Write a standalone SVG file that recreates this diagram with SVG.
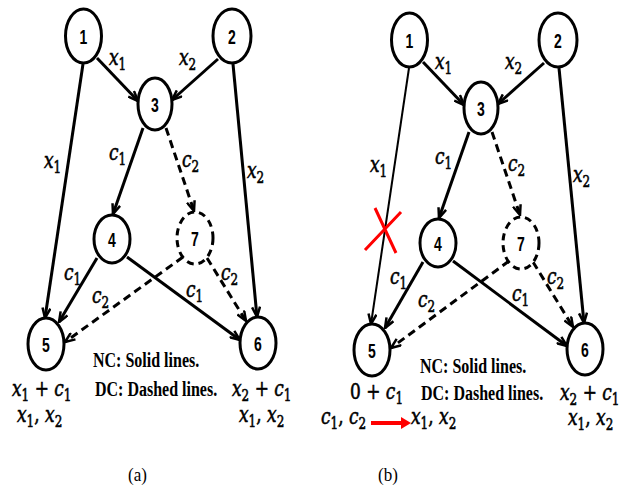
<svg xmlns="http://www.w3.org/2000/svg" width="636" height="487" viewBox="0 0 636 487">
<style>
.nd{fill:#fff;stroke:#000;stroke-width:3}
.dn{stroke-dasharray:7,5}
.e{fill:none;stroke:#000;stroke-width:3}
.d{stroke-dasharray:8,5}
.m{font-family:"DejaVu Serif","Liberation Serif",serif;font-style:italic;font-size:17px;fill:#000;stroke:#000;stroke-width:0.45}
.s{font-style:normal;font-size:12px}
.u{font-style:normal}
.n{font-family:"Liberation Sans",Arial,sans-serif;font-weight:bold;font-size:14px;text-anchor:middle;fill:#000}
.t{font-family:"Liberation Serif","Times New Roman",serif;font-weight:bold;font-size:16px;fill:#000}
.c{font-family:"Liberation Serif","Times New Roman",serif;font-size:17px;text-anchor:middle;fill:#000}
</style>
<defs>
<marker id="ah" viewBox="0 0 12 10" refX="11" refY="5" markerWidth="12" markerHeight="10" markerUnits="userSpaceOnUse" orient="auto"><path d="M1,1 L11,5 L1,9" fill="none" stroke="#000" stroke-width="2.5" stroke-dasharray="none"/></marker>
</defs>
<rect width="636" height="487" fill="#fff"/>

<!-- Panel (a) -->
<g id="panel-a">
<g id="a-connectors">
<path class="e" d="M97,58 L138,101" marker-end="url(#ah)"/>
<path class="e" d="M218,59 L172,100" marker-end="url(#ah)"/>
<path class="e" d="M83,64 L45,318" marker-end="url(#ah)"/>
<path class="e" d="M233,64 L257,317" marker-end="url(#ah)"/>
<path class="e" d="M143,128 L113,214" marker-end="url(#ah)"/>
<path class="e d" d="M166,128 L194,211" marker-end="url(#ah)"/>
<path class="e" d="M97,258 L59,322" marker-end="url(#ah)"/>
<path class="e" d="M127,257 L240,340" marker-end="url(#ah)"/>
<path class="e d" d="M183,257 L65,342" marker-end="url(#ah)"/>
<path class="e d" d="M207,258 L246,321" marker-end="url(#ah)"/>
</g>
<g id="a-node1"><ellipse class="nd" cx="83.5" cy="36" rx="18" ry="27"/><text class="n" transform="translate(83.5,43.5) scale(1,1.45)">1</text></g>
<g id="a-node2"><ellipse class="nd" cx="232" cy="36" rx="19" ry="27"/><text class="n" transform="translate(232,43.5) scale(1,1.45)">2</text></g>
<g id="a-node3"><ellipse class="nd" cx="155" cy="104" rx="17" ry="26"/><text class="n" transform="translate(155,111.5) scale(1,1.45)">3</text></g>
<g id="a-node4"><ellipse class="nd" cx="112" cy="239" rx="18" ry="24"/><text class="n" transform="translate(112,246.5) scale(1,1.45)">4</text></g>
<g id="a-node7"><ellipse class="nd dn" cx="195" cy="238" rx="18" ry="26"/><text class="n" transform="translate(195,245.5) scale(1,1.45)">7</text></g>
<g id="a-node5"><ellipse class="nd" cx="46" cy="344" rx="18" ry="26"/><text class="n" transform="translate(46,351.5) scale(1,1.45)">5</text></g>
<g id="a-node6"><ellipse class="nd" cx="258" cy="343" rx="18" ry="26"/><text class="n" transform="translate(258,350.5) scale(1,1.45)">6</text></g>
<g id="a-labels">
<text class="m" transform="translate(109,65) scale(1,1.35)">x<tspan class="s" dy="3.5">1</tspan></text>
<text class="m" transform="translate(179,65) scale(1,1.35)">x<tspan class="s" dy="3.5">2</tspan></text>
<text class="m" transform="translate(44,168) scale(1,1.35)">x<tspan class="s" dy="3.5">1</tspan></text>
<text class="m" transform="translate(247,178) scale(1,1.35)">x<tspan class="s" dy="3.5">2</tspan></text>
<text class="m" transform="translate(109,160) scale(1,1.35)">c<tspan class="s" dy="3.5">1</tspan></text>
<text class="m" transform="translate(182,167) scale(1,1.35)">c<tspan class="s" dy="3.5">2</tspan></text>
<text class="m" transform="translate(64,280) scale(1,1.35)">c<tspan class="s" dy="3.5">1</tspan></text>
<text class="m" transform="translate(92,303) scale(1,1.35)">c<tspan class="s" dy="3.5">2</tspan></text>
<text class="m" transform="translate(186,297) scale(1,1.35)">c<tspan class="s" dy="3.5">1</tspan></text>
<text class="m" transform="translate(221,280) scale(1,1.35)">c<tspan class="s" dy="3.5">2</tspan></text>
<text class="m" transform="translate(12,396) scale(1,1.35)">x<tspan class="s" dy="3.5">1</tspan><tspan class="u" dy="-3.5"> + </tspan>c<tspan class="s" dy="3.5">1</tspan></text>
<text class="m" transform="translate(17,422) scale(1,1.35)">x<tspan class="s" dy="3.5">1</tspan><tspan class="u" dy="-3.5">, </tspan>x<tspan class="s" dy="3.5">2</tspan></text>
<text class="m" transform="translate(232,396) scale(1,1.35)">x<tspan class="s" dy="3.5">2</tspan><tspan class="u" dy="-3.5"> + </tspan>c<tspan class="s" dy="3.5">1</tspan></text>
<text class="m" transform="translate(239,422) scale(1,1.35)">x<tspan class="s" dy="3.5">1</tspan><tspan class="u" dy="-3.5">, </tspan>x<tspan class="s" dy="3.5">2</tspan></text>
<text class="t" transform="translate(93,367) scale(1,1.35)">NC: Solid lines.</text>
<text class="t" transform="translate(95,396) scale(1,1.35)">DC: Dashed lines.</text>
</g>
<text class="c" transform="translate(137.5,481) scale(1,1.1)">(a)</text>
</g>

<!-- Panel (b) -->
<g id="panel-b" transform="translate(326,4)">
<g id="b-connectors">
<path class="e" d="M97,58 L138,101" marker-end="url(#ah)"/>
<path class="e" d="M218,59 L172,100" marker-end="url(#ah)"/>
<path class="e" style="stroke-width:2" d="M83,64 L45,320" marker-end="url(#ah)"/>
<path class="e" d="M233,64 L258,319" marker-end="url(#ah)"/>
<path class="e" d="M143,128 L113,214" marker-end="url(#ah)"/>
<path class="e d" d="M166,128 L194,211" marker-end="url(#ah)"/>
<path class="e" d="M97,258 L59,324" marker-end="url(#ah)"/>
<path class="e" d="M127,257 L241,342" marker-end="url(#ah)"/>
<path class="e d" d="M183,257 L65,344" marker-end="url(#ah)"/>
<path class="e d" d="M207,258 L247,323" marker-end="url(#ah)"/>
</g>
<g id="b-cross"><path d="M49,204 L70,249 M75,208 L39,246" fill="none" stroke="#f00" stroke-width="3"/></g>
<g id="b-node1"><ellipse class="nd" cx="83.5" cy="36" rx="18" ry="27"/><text class="n" transform="translate(83.5,43.5) scale(1,1.45)">1</text></g>
<g id="b-node2"><ellipse class="nd" cx="232" cy="36" rx="19" ry="27"/><text class="n" transform="translate(232,43.5) scale(1,1.45)">2</text></g>
<g id="b-node3"><ellipse class="nd" cx="155" cy="104" rx="17" ry="26"/><text class="n" transform="translate(155,111.5) scale(1,1.45)">3</text></g>
<g id="b-node4"><ellipse class="nd" cx="112" cy="239" rx="18" ry="24"/><text class="n" transform="translate(112,246.5) scale(1,1.45)">4</text></g>
<g id="b-node7"><ellipse class="nd dn" cx="195" cy="239" rx="18" ry="26"/><text class="n" transform="translate(195,246.5) scale(1,1.45)">7</text></g>
<g id="b-node5"><ellipse class="nd" cx="46" cy="346" rx="18" ry="26"/><text class="n" transform="translate(46,353.5) scale(1,1.45)">5</text></g>
<g id="b-node6"><ellipse class="nd" cx="259" cy="345" rx="18" ry="26"/><text class="n" transform="translate(259,352.5) scale(1,1.45)">6</text></g>
<g id="b-labels">
<text class="m" transform="translate(109,65) scale(1,1.35)">x<tspan class="s" dy="3.5">1</tspan></text>
<text class="m" transform="translate(179,65) scale(1,1.35)">x<tspan class="s" dy="3.5">2</tspan></text>
<text class="m" transform="translate(44,168) scale(1,1.35)">x<tspan class="s" dy="3.5">1</tspan></text>
<text class="m" transform="translate(247,178) scale(1,1.35)">x<tspan class="s" dy="3.5">2</tspan></text>
<text class="m" transform="translate(109,160) scale(1,1.35)">c<tspan class="s" dy="3.5">1</tspan></text>
<text class="m" transform="translate(182,167) scale(1,1.35)">c<tspan class="s" dy="3.5">2</tspan></text>
<text class="m" transform="translate(64,280) scale(1,1.35)">c<tspan class="s" dy="3.5">1</tspan></text>
<text class="m" transform="translate(92,303) scale(1,1.35)">c<tspan class="s" dy="3.5">2</tspan></text>
<text class="m" transform="translate(186,297) scale(1,1.35)">c<tspan class="s" dy="3.5">1</tspan></text>
<text class="m" transform="translate(221,280) scale(1,1.35)">c<tspan class="s" dy="3.5">2</tspan></text>
<text class="m" transform="translate(24,395) scale(1,1.35)"><tspan class="u">0 + </tspan>c<tspan class="s" dy="3.5">1</tspan></text>
<text class="m" transform="translate(-5,420) scale(1,1.35)">c<tspan class="s" dy="3.5">1</tspan><tspan class="u" dy="-3.5">, </tspan>c<tspan class="s" dy="3.5">2</tspan></text>
<path d="M45,419 L76,419" stroke="#f00" stroke-width="4"/>
<path d="M75,413 L85,419 L75,425 Z" fill="#f00"/>
<text class="m" transform="translate(85,420) scale(1,1.35)">x<tspan class="s" dy="3.5">1</tspan><tspan class="u" dy="-3.5">, </tspan>x<tspan class="s" dy="3.5">2</tspan></text>
<text class="m" transform="translate(234,396) scale(1,1.35)">x<tspan class="s" dy="3.5">2</tspan><tspan class="u" dy="-3.5"> + </tspan>c<tspan class="s" dy="3.5">1</tspan></text>
<text class="m" transform="translate(242,421) scale(1,1.35)">x<tspan class="s" dy="3.5">1</tspan><tspan class="u" dy="-3.5">, </tspan>x<tspan class="s" dy="3.5">2</tspan></text>
<text class="t" transform="translate(94,369) scale(1,1.35)">NC: Solid lines.</text>
<text class="t" transform="translate(95,396) scale(1,1.35)">DC: Dashed lines.</text>
</g>
<text class="c" transform="translate(62,477) scale(1,1.1)">(b)</text>
</g>
</svg>
